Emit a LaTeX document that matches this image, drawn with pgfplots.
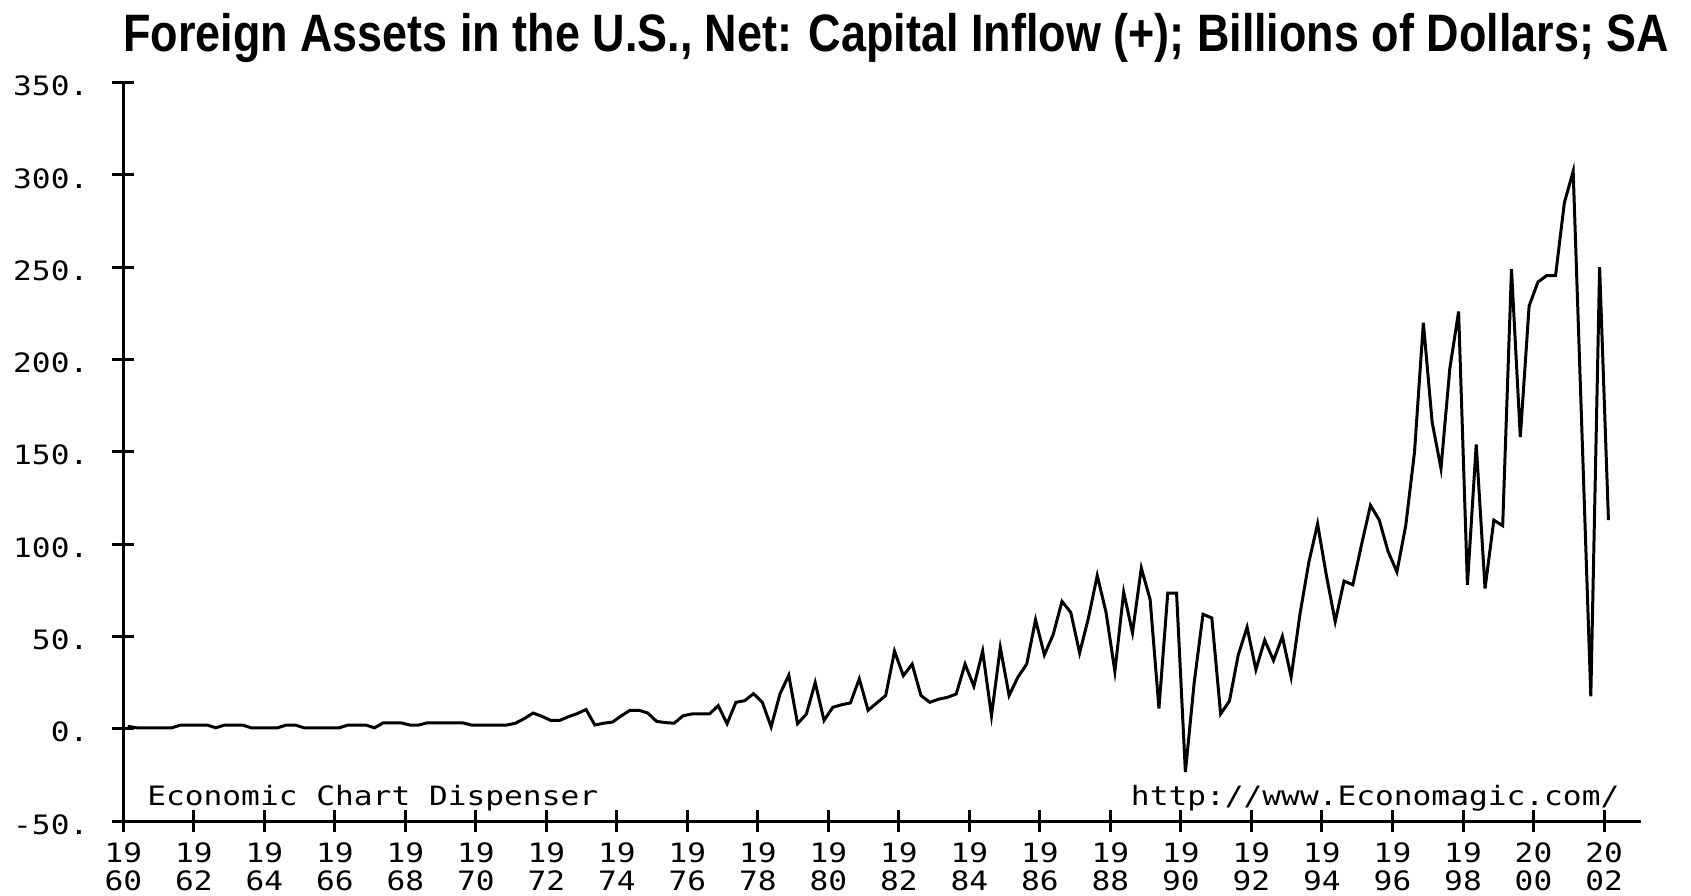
\documentclass[border=0pt]{standalone}
\usepackage{fontspec}
\usepackage{pgfplots}
\pgfplotsset{compat=1.18}
\newfontfamily\titlefont[FakeStretch=0.853]{Liberation Sans}
\newfontfamily\pixfont[FakeStretch=1.17]{DejaVu Sans Mono}
\newcommand\pix{\pixfont\fontsize{8pt}{8.3pt}\selectfont}
\pgfplotstableread{
x y
1960.125 1.3
1960.375 0.5
1960.625 0.5
1960.875 0.5
1961.125 0.5
1961.375 0.5
1961.625 2.0
1961.875 2.0
1962.125 2.0
1962.375 2.0
1962.625 0.5
1962.875 2.0
1963.125 2.0
1963.375 2.0
1963.625 0.5
1963.875 0.5
1964.125 0.5
1964.375 0.5
1964.625 2.0
1964.875 2.0
1965.125 0.5
1965.375 0.5
1965.625 0.5
1965.875 0.5
1966.125 0.5
1966.375 2.0
1966.625 2.0
1966.875 2.0
1967.125 0.5
1967.375 3.2
1967.625 3.2
1967.875 3.2
1968.125 2.0
1968.375 2.0
1968.625 3.2
1968.875 3.2
1969.125 3.2
1969.375 3.2
1969.625 3.2
1969.875 2.0
1970.125 2.0
1970.375 2.0
1970.625 2.0
1970.875 2.0
1971.125 3.0
1971.375 5.5
1971.625 8.5
1971.875 6.7
1972.125 4.5
1972.375 4.5
1972.625 6.5
1972.875 8.2
1973.125 10.4
1973.375 2.0
1973.625 3.0
1973.875 3.6
1974.125 7.0
1974.375 10.0
1974.625 10.0
1974.875 8.5
1975.125 4.0
1975.375 3.3
1975.625 3.0
1975.875 7.0
1976.125 8.0
1976.375 8.0
1976.625 8.0
1976.875 12.5
1977.125 2.7
1977.375 14.3
1977.625 15.2
1977.875 19.0
1978.125 14.3
1978.375 1.0
1978.625 18.8
1978.875 29.0
1979.125 2.7
1979.375 8.0
1979.625 25.0
1979.875 4.5
1980.125 11.6
1980.375 13.0
1980.625 14.0
1980.875 27.0
1981.125 10.0
1981.375 14.0
1981.625 18.0
1981.875 42.0
1982.125 28.7
1982.375 35.0
1982.625 18.0
1982.875 14.3
1983.125 16.0
1983.375 17.0
1983.625 18.8
1983.875 35.0
1984.125 23.0
1984.375 42.0
1984.625 7.0
1984.875 44.0
1985.125 18.0
1985.375 28.0
1985.625 35.0
1985.875 59.0
1986.125 40.0
1986.375 51.0
1986.625 69.0
1986.875 63.0
1987.125 41.0
1987.375 60.0
1987.625 83.0
1987.875 63.0
1988.125 31.0
1988.375 74.0
1988.625 52.0
1988.875 87.0
1989.125 70.0
1989.375 11.0
1989.625 73.5
1989.875 73.5
1990.125 -23.5
1990.375 25.0
1990.625 62.0
1990.875 60.0
1991.125 8.0
1991.375 15.0
1991.625 40.0
1991.875 55.0
1992.125 32.0
1992.375 48.0
1992.625 37.0
1992.875 50.0
1993.125 28.0
1993.375 62.0
1993.625 90.0
1993.875 111.0
1994.125 83.0
1994.375 58.0
1994.625 80.0
1994.875 78.0
1995.125 100.0
1995.375 121.0
1995.625 113.0
1995.875 96.0
1996.125 85.0
1996.375 110.0
1996.625 150.0
1996.875 220.0
1997.125 166.0
1997.375 141.0
1997.625 195.0
1997.875 226.0
1998.125 78.0
1998.375 154.0
1998.625 76.0
1998.875 113.0
1999.125 110.0
1999.375 249.0
1999.625 158.0
1999.875 229.0
2000.125 242.0
2000.375 245.5
2000.625 245.5
2000.875 285.0
2001.125 302.0
2001.375 160.0
2001.625 17.5
2001.875 250.0
2002.125 113.0
}\inflow
\begin{document}
\begin{tikzpicture}
\path[use as bounding box] (0,0) rectangle (507.3pt,268.5pt);
\begin{axis}[
  at={(37pt,22.2pt)}, anchor=south west,
  scale only axis, width=455.2pt, height=221.5pt,
  xmin=1960, xmax=2003.04, ymin=-50, ymax=350,
  axis x line*=bottom, axis y line*=left,
  axis line style={line width=0.9pt, -},
  tick style={line width=0.9pt, black},
  tick align=center, major tick length=6.6pt,
  xtick={1960,1962,...,2002},
  xticklabels={{19\\60},{19\\62},{19\\64},{19\\66},{19\\68},{19\\70},{19\\72},{19\\74},{19\\76},{19\\78},{19\\80},{19\\82},{19\\84},{19\\86},{19\\88},{19\\90},{19\\92},{19\\94},{19\\96},{19\\98},{20\\00},{20\\02}},
  ytick={-50,0,...,350},
  yticklabels={-50.,0.,50.,100.,150.,200.,250.,300.,350.},
  xticklabel style={font=\pix, align=center, anchor=north, inner sep=0pt, yshift=-3pt},
  yticklabel style={font=\pix, anchor=east, inner sep=0pt, xshift=-7pt, yshift=-1pt},
]
\addplot[line width=0.9pt, black, mark=none] table[x=x, y=y] {\inflow};
\end{axis}
\node[anchor=base west, inner sep=0pt] at (36.8pt,253pt) {\titlefont\bfseries\fontsize{15.8pt}{18pt}\selectfont Foreign Assets in the U.S., Net: Capital Inflow (+); Billions of Dollars; SA};
\node[anchor=base west, inner sep=0pt] at (44pt,27pt) {\pix Economic Chart Dispenser};
\node[anchor=base east, inner sep=0pt] at (486pt,27pt) {\pix http://www.Economagic.com/};
\end{tikzpicture}
\end{document}
